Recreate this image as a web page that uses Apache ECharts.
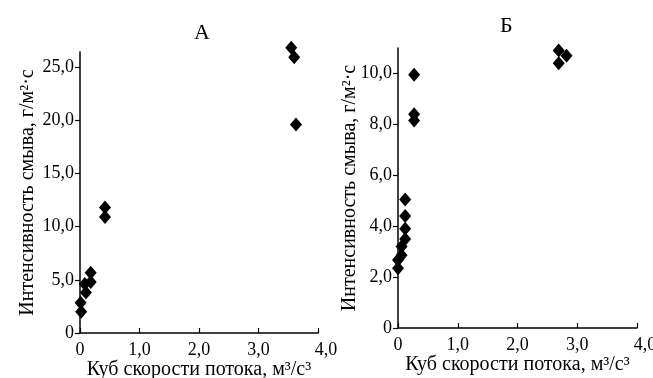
<!DOCTYPE html>
<html>
<head>
<meta charset="utf-8">
<script src="https://cdn.jsdelivr.net/npm/echarts@6/dist/echarts.min.js"></script>
<style>
  html, body { margin: 0; padding: 0; background: #fff; }
  #chart { width: 653px; height: 378px; }
</style>
</head>
<body>
<div id="chart"></div>
<script>
// --- данные ---
var xA = [0.02, 0.01, 0.1, 0.08, 0.18, 0.18, 0.42, 0.42, 3.55, 3.6, 3.63];
var yA = [2.0, 2.85, 3.8, 4.6, 4.8, 5.65, 11.8, 10.9, 26.8, 25.9, 19.6];
var xB = [0, 0, 0.06, 0.06, 0.12, 0.12, 0.12, 0.12, 0.27, 0.27, 0.27, 2.69, 2.69, 2.82];
var yB = [2.35, 2.67, 2.86, 3.2, 3.5, 3.9, 4.4, 5.05, 9.95, 8.4, 8.15, 10.4, 10.9, 10.7];
var xTicks = [0, 1, 2, 3, 4];
var yTicksA = [0, 5, 10, 15, 20, 25];
var yTicksB = [0, 2, 4, 6, 8, 10];
var titles = ['А', 'Б'];
var xName = 'Куб скорости потока, м³/с³';
var yName = 'Интенсивность смыва, г/м²·с';

var FONT = '"Liberation Serif", "DejaVu Serif", serif';

function fmt(v) {
  if (v === 0) return '0';
  return v.toFixed(1).replace('.', ',');
}
function pairs(xs, ys) {
  var out = [];
  for (var i = 0; i < xs.length; i++) out.push([xs[i], ys[i]]);
  return out;
}
function xAxisOf(idx) {
  return {
    type: 'value', gridIndex: idx, min: 0, max: 4, interval: 1,
    name: xName, nameLocation: 'middle', nameGap: 27, nameMoveOverlap: false,
    nameTextStyle: { fontFamily: FONT, fontSize: 20, color: '#000' },
    axisLine: { lineStyle: { color: '#000', width: 1.5 } },
    axisTick: { inside: true, length: 5, customValues: xTicks, lineStyle: { color: '#000', width: 1.2 } },
    axisLabel: {
      margin: 8, fontFamily: FONT, fontSize: 18, color: '#000',
      customValues: xTicks,
      formatter: function (v) { return v === 4 ? '{hi|' + fmt(v) + '}' : fmt(v); },
      rich: { hi: { fontFamily: FONT, fontSize: 18, color: '#000', padding: [0, 0, 12, 16] } }
    },
    splitLine: { show: false }
  };
}
function yAxisOf(idx, max, ticks, gap) {
  return {
    type: 'value', gridIndex: idx, min: 0, max: max,
    name: yName, nameLocation: 'middle', nameGap: gap, nameMoveOverlap: false,
    nameTextStyle: { fontFamily: FONT, fontSize: 20, color: '#000' },
    axisLine: { lineStyle: { color: '#000', width: 1.5 } },
    axisTick: { length: 5, customValues: ticks, lineStyle: { color: '#000', width: 1.2 } },
    axisLabel: {
      margin: 6, fontFamily: FONT, fontSize: 18, color: '#000',
      customValues: ticks, formatter: fmt
    },
    splitLine: { show: false }
  };
}

var chart = echarts.init(document.getElementById('chart'));
chart.setOption({
  animation: false,
  backgroundColor: '#fff',
  title: [
    { text: titles[0], left: 189, top: 17, textStyle: { fontFamily: FONT, fontSize: 22, fontWeight: 'normal', color: '#000' } },
    { text: titles[1], left: 495, top: 10, textStyle: { fontFamily: FONT, fontSize: 22, fontWeight: 'normal', color: '#000' } }
  ],
  grid: [
    { left: 80, top: 52, width: 238, height: 281, outerBoundsMode: 'none' },
    { left: 398, top: 48, width: 239, height: 280, outerBoundsMode: 'none' }
  ],
  xAxis: [xAxisOf(0), xAxisOf(1)],
  yAxis: [yAxisOf(0, 26.4, yTicksA, 42), yAxisOf(1, 11.0, yTicksB, 38)],
  series: [
    { type: 'scatter', xAxisIndex: 0, yAxisIndex: 0, data: pairs(xA, yA), clip: false,
      symbol: 'diamond', symbolSize: [12, 14], itemStyle: { color: '#000', opacity: 1 } },
    { type: 'scatter', xAxisIndex: 1, yAxisIndex: 1, data: pairs(xB, yB), clip: false,
      symbol: 'diamond', symbolSize: [12, 14], itemStyle: { color: '#000', opacity: 1 } }
  ]
});
</script>
</body>
</html>
